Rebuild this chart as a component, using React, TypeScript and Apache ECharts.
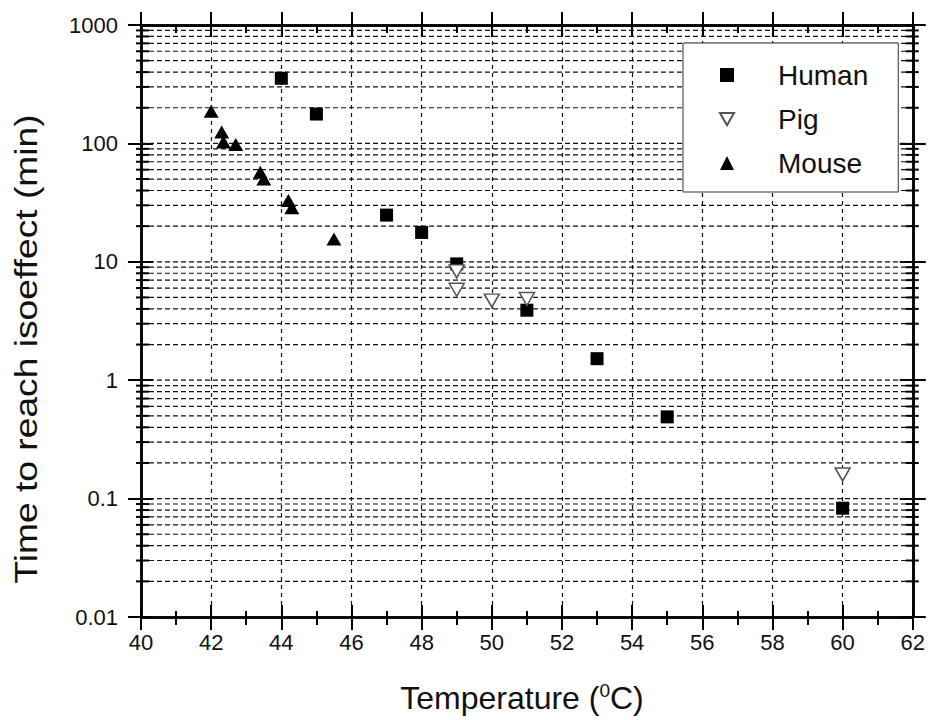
import React, { useEffect, useRef } from "react";
import * as echarts from "echarts";

// ---- data ----
const humanTemp = [44, 45, 47, 48, 49, 51, 53, 55, 60];
const humanTime = [355, 177, 24.8, 17.7, 9.6, 3.9, 1.52, 0.49, 0.083];

const pigTemp = [49, 49, 50, 51, 60];
const pigTime = [8.3, 5.8, 4.7, 4.85, 0.16];

const mouseTemp = [42.0, 42.3, 42.35, 42.7, 43.4, 43.5, 44.2, 44.3, 45.5];
const mouseTime = [187, 125, 103, 98, 57, 50, 33, 28.6, 15.6];

// ---- axis decoration ----
const X_MIN = 40;
const X_MAX = 62;
const X_INTERVAL = 2;
const Y_MIN = 0.01;
const Y_MAX = 1000;
const yTickLabels = ["0.01", "0.1", "1", "10", "100", "1000"];
const decades = [0.01, 0.1, 1, 10, 100];
const minorMultipliers = [2, 3, 4, 5, 6, 7, 8, 9];

const FONT = "'Liberation Sans', Arial, Helvetica, sans-serif";

function zip(xs: number[], ys: number[]) {
  return xs.map((x, i) => [x, ys[i]]);
}

export default function App() {
  const ref = useRef<HTMLDivElement>(null);

  useEffect(() => {
    if (!ref.current) return;
    const chart = echarts.init(ref.current, null, { renderer: "svg" });

    // gridline rows: [x, value, isMinor]
    const gridRows: number[][] = [];
    decades.forEach((d, i) => {
      if (i > 0) gridRows.push([X_MIN, d, 0]);
      minorMultipliers.forEach((m) => gridRows.push([X_MIN, d * m, 1]));
    });

    const axisLineStyle = { color: "#000", width: 2.5 };
    const tickStyle = { color: "#000", width: 2 };

    const baseX = {
      type: "value",
      min: X_MIN,
      max: X_MAX,
      interval: X_INTERVAL,
      axisLine: { show: true, lineStyle: axisLineStyle },
      axisLabel: { show: false },
      splitLine: { show: false },
    };
    const baseY = {
      type: "log",
      logBase: 10,
      min: Y_MIN,
      max: Y_MAX,
      splitNumber: 5,
      axisLine: { show: true, lineStyle: axisLineStyle },
      axisLabel: { show: false },
      splitLine: { show: false },
    };

    const option: any = {
      animation: false,
      backgroundColor: "#fff",
      grid: { left: 141, top: 25, right: 12, bottom: 103, containLabel: false },
      xAxis: [
        {
          ...baseX,
          position: "bottom",
          axisTick: { show: true, inside: false, length: 13, lineStyle: tickStyle },
          minorTick: { show: true, splitNumber: 2, length: 8, lineStyle: tickStyle },
          axisLabel: {
            show: true,
            margin: 14,
            fontSize: 22,
            color: "#111",
            fontFamily: FONT,
          },
          splitLine: {
            show: true,
            lineStyle: { color: "#111", width: 1.2, type: [4, 4] },
          },
        },
        {
          ...baseX,
          position: "bottom",
          axisTick: { show: true, inside: true, length: 12, lineStyle: tickStyle },
          minorTick: { show: true, splitNumber: 2, length: 6, lineStyle: tickStyle },
        },
        {
          ...baseX,
          position: "top",
          axisTick: { show: true, inside: false, length: 13, lineStyle: tickStyle },
        },
        {
          ...baseX,
          position: "top",
          axisTick: { show: true, inside: true, length: 12, lineStyle: tickStyle },
          minorTick: { show: true, splitNumber: 2, length: 8, lineStyle: tickStyle },
        },
      ],
      yAxis: [
        {
          ...baseY,
          position: "left",
          axisTick: { show: true, inside: false, length: 13, lineStyle: tickStyle },
          axisLabel: {
            show: true,
            margin: 23,
            fontSize: 22,
            color: "#111",
            fontFamily: FONT,
            formatter: (v: number) => {
              const i = Math.round(Math.log10(v)) + 2;
              return yTickLabels[i] ?? String(v);
            },
          },
        },
        {
          ...baseY,
          position: "left",
          axisTick: { show: true, inside: true, length: 12, lineStyle: tickStyle },
        },
        {
          ...baseY,
          position: "right",
          axisTick: { show: true, inside: false, length: 13, lineStyle: tickStyle },
        },
        {
          ...baseY,
          position: "right",
          axisTick: { show: true, inside: true, length: 13, lineStyle: tickStyle },
        },
      ],
      legend: {
        show: true,
        orient: "vertical",
        left: 683,
        top: 43,
        padding: [17, 30, 14, 36],
        itemGap: 14,
        itemWidth: 14,
        itemHeight: 14,
        backgroundColor: "#fff",
        borderColor: "#333",
        borderWidth: 1,
        borderRadius: 0,
        textStyle: {
          fontSize: 28,
          color: "#111",
          fontFamily: FONT,
          lineHeight: 30,
          padding: [0, 0, 0, 39],
        },
        data: [
          { name: "Human", icon: "rect" },
          { name: "Pig", icon: "path://M0,0 L16,0 L8,14 Z" },
          { name: "Mouse", icon: "triangle" },
        ],
      },
      graphic: [
        {
          type: "text",
          x: 26,
          y: 349,
          rotation: Math.PI / 2,
          scaleX: 1.2,
          style: {
            text: "Time to reach isoeffect (min)",
            fontSize: 31,
            fontFamily: FONT,
            fill: "#111",
            align: "center",
            verticalAlign: "middle",
          },
        },
        {
          type: "text",
          x: 522,
          y: 698,
          style: {
            text: "{a|Temperature (}{s|0}{a|C)}",
            align: "center",
            verticalAlign: "middle",
            fill: "#111",
            rich: {
              a: { fontSize: 32, fontFamily: FONT, fill: "#111", lineHeight: 34 },
              s: {
                fontSize: 19,
                fontFamily: FONT,
                fill: "#111",
                verticalAlign: "top",
                lineHeight: 34,
                padding: [0, 0, 12, 0],
              },
            },
          },
        },
      ],
      series: [
        {
          name: "gridlines",
          type: "custom",
          coordinateSystem: "cartesian2d",
          xAxisIndex: 0,
          yAxisIndex: 0,
          clip: false,
          silent: true,
          z: 1,
          encode: { x: 0, y: 1 },
          data: gridRows,
          renderItem: (params: any, api: any) => {
            const v = api.value(1);
            const minor = api.value(2) === 1;
            const a = api.coord([X_MIN, v]);
            const b = api.coord([X_MAX, v]);
            const children: any[] = [
              {
                type: "line",
                shape: { x1: a[0], y1: a[1], x2: b[0], y2: b[1] },
                style: { stroke: "#111", lineWidth: 1.2, lineDash: [5, 3] },
              },
            ];
            if (minor) {
              children.push({
                type: "line",
                shape: { x1: a[0] - 5, y1: a[1], x2: a[0] + 8, y2: a[1] },
                style: { stroke: "#000", lineWidth: 2 },
              });
              children.push({
                type: "line",
                shape: { x1: b[0] - 7, y1: b[1], x2: b[0] + 6, y2: b[1] },
                style: { stroke: "#000", lineWidth: 2 },
              });
            }
            return { type: "group", children };
          },
        },
        {
          name: "Human",
          type: "scatter",
          xAxisIndex: 0,
          yAxisIndex: 0,
          symbol: "rect",
          symbolSize: 13,
          itemStyle: { color: "#000", opacity: 1 },
          z: 3,
          data: zip(humanTemp, humanTime),
        },
        {
          name: "Pig",
          type: "scatter",
          xAxisIndex: 0,
          yAxisIndex: 0,
          symbol: "triangle",
          symbolRotate: 180,
          symbolSize: [15, 13],
          itemStyle: { color: "#fff", borderColor: "#555", borderWidth: 1.5, opacity: 1 },
          z: 4,
          data: zip(pigTemp, pigTime),
        },
        {
          name: "Mouse",
          type: "scatter",
          xAxisIndex: 0,
          yAxisIndex: 0,
          symbol: "triangle",
          symbolSize: [15, 13],
          itemStyle: { color: "#000", opacity: 1 },
          z: 3,
          data: zip(mouseTemp, mouseTime),
        },
      ],
    };

    chart.setOption(option);
    return () => chart.dispose();
  }, []);

  return (
    <div
      ref={ref}
      style={{
        position: "fixed",
        left: 0,
        top: 0,
        width: 928,
        height: 720,
        background: "#fff",
      }}
    />
  );
}
